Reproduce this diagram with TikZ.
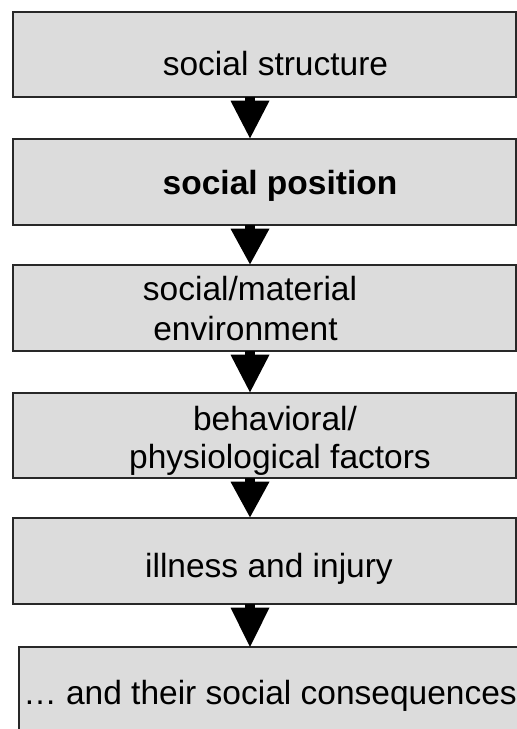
\documentclass[tikz,border=0pt]{standalone}
\usepackage{fontspec}
\setmainfont{Liberation Sans}
\usetikzlibrary{calc}
\definecolor{boxfill}{RGB}{220,220,220}
\definecolor{boxline}{RGB}{40,40,40}
\begin{document}
\begin{tikzpicture}[x=1pt,y=-1pt,
  stagebox/.style={draw=boxline, line width=1.4pt, fill=boxfill, rectangle, inner sep=0pt, minimum width=503pt},
  stagetext/.style={font=\fontsize{33.5}{40}\selectfont, anchor=base, inner sep=0pt},
  boldtext/.style={stagetext, font=\fontsize{33.5}{40}\selectfont\bfseries},
  flowarrow/.style={fill=black}
  ]
\useasboundingbox (0,0) rectangle (517,729);
\fill[white] (0,0) rectangle (517,729);

% boxes
\node[stagebox, minimum height=85pt] (b1) at (264.5,54.5) {};
\node[stagebox, minimum height=86pt] (b2) at (264.5,182) {};
\node[stagebox, minimum height=86pt] (b3) at (264.5,308) {};
\node[stagebox, minimum height=85pt] (b4) at (264.5,435.5) {};
\node[stagebox, minimum height=86pt] (b5) at (264.5,561) {};
\node[fill=boxfill, inner sep=0pt, minimum width=498pt, minimum height=82pt] (b6) at (268,688) {};
\draw[boxline, line width=1.4pt] (b6.north east) -- (b6.north west) -- (b6.south west);

% texts
\node[stagetext] (t1) at (275.5,75) {social structure};
\node[boldtext] (t2) at (280,194) {social position};
\node[stagetext] (t3a) at (250,300) {social/material};
\node[stagetext] (t3b) at (245.5,340) {environment};
\node[stagetext] (t4a) at (275,430) {behavioral/};
\node[stagetext] (t4b) at (280,468) {physiological factors};
\node[stagetext] (t5) at (269,577.5) {illness and injury};
\node[stagetext] (t6) at (270,704) {… and their social consequences};

% arrows
\coordinate (ax) at (250,0);
\foreach \u/\v in {b1/b2,b2/b3,b3/b4,b4/b5,b5/b6}{
  \fill[flowarrow] ($(\u.south -| ax)+(-5,-0.5)$) rectangle ($(\u.south -| ax)+(5,4)$);
  \fill[flowarrow] ($(\u.south -| ax)+(-19.5,3)$) -- ($(\u.south -| ax)+(19.5,3)$) -- (\v.north -| ax) -- cycle;
}
\end{tikzpicture}
\end{document}
